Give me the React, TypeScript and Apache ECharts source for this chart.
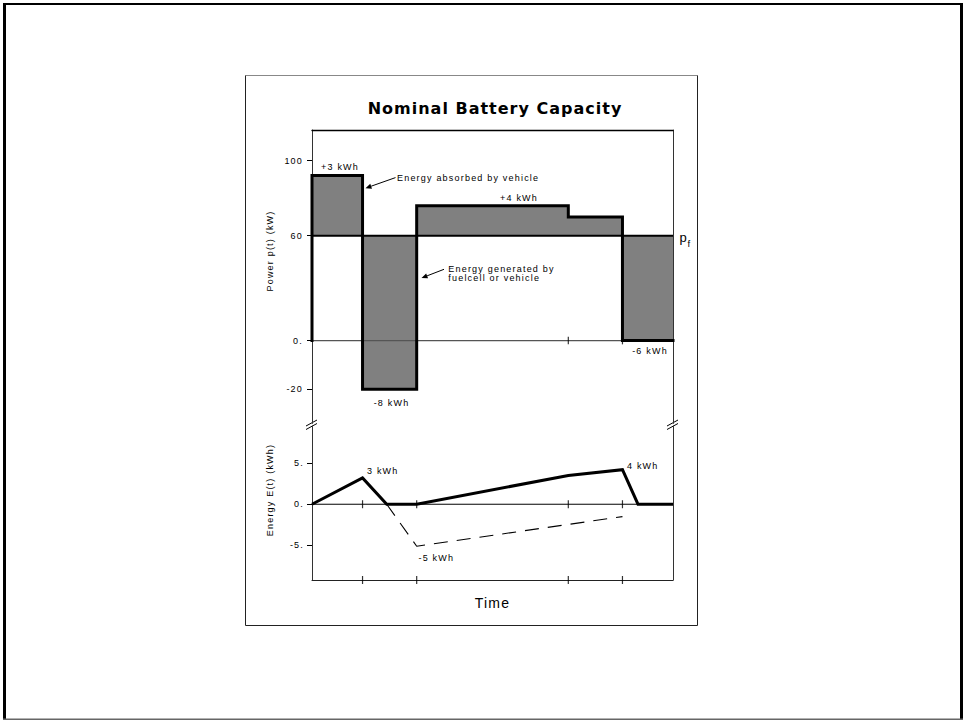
import React, { useEffect, useRef } from 'react';
import * as echarts from 'echarts';

// ---------------- data ----------------
const TITLE = 'Nominal Battery Capacity';
const TIME_EDGES = [0, 14, 29, 71, 86, 100]; // segment boundaries (time)
const POWER_KW = [92, -20, 76, 70, 0]; // power demand in each segment
const PF_KW = 60; // fuel-cell power p_f
const POWER_TICKS = [-20, 0, 60, 100];
const POWER_TICK_LABELS = ['-20', '0.', '60', '100'];
const TIME_TICKS = [14, 29, 71, 86];
const ENERGY_T = [0, 14, 20.7, 29, 71, 86, 90.3, 100];
const ENERGY_KWH = [0, 3.2, 0, 0, 3.5, 4.2, 0, 0];
const UNCLIPPED_T = [20.7, 29, 71, 86];
const UNCLIPPED_KWH = [0, -5.1, -2.45, -1.5];
const ENERGY_TICKS = [-5, 0, 5];
const ENERGY_TICK_LABELS = ['-5.', '0.', '5.'];
const SEGMENT_LABELS = ['+3 kWh', '-8 kWh', '+4 kWh', '-6 kWh'];
const ENERGY_LABELS = ['3 kWh', '-5 kWh', '4 kWh'];
const NOTE_ABSORBED = 'Energy absorbed by vehicle';
const NOTE_GENERATED = 'Energy generated by\nfuelcell or vehicle';
const POWER_AXIS_NAME = 'Power p(t) (kW)';
const ENERGY_AXIS_NAME = 'Energy E(t) (kWh)';
const TIME_AXIS_NAME = 'Time';

// ---------------- layout ----------------
const FONT = '"Liberation Sans", Arial, sans-serif';
const PLOT_L = 312;
const PLOT_R = 673;
const G0_TOP = 130;
const G0_H = 293.4;
const G1_TOP = 426;
const G1_H = 154;
const P_MIN = -46;
const P_MAX = 117;
// The power axis of the original is a hand-drawn schematic: its tick labels
// are not evenly spaced. Calibrate the axis (value -> drawn position).
const AXIS_KNOT_VALUES = [-20, 0, 60, 100];
const AXIS_KNOT_DRAWN = [-27, 0, 58.3, 100];
function warp(v: number): number {
  const kv = AXIS_KNOT_VALUES;
  const kd = AXIS_KNOT_DRAWN;
  let i = 0;
  while (i < kv.length - 2 && v > kv[i + 1]) i++;
  const f = (v - kv[i]) / (kv[i + 1] - kv[i]);
  return kd[i] + f * (kd[i + 1] - kd[i]);
}
const E_MIN = -9.2;
const E_MAX = 9.5;

function arrow(x1: number, y1: number, x2: number, y2: number): any[] {
  const dx = x2 - x1;
  const dy = y2 - y1;
  const len = Math.hypot(dx, dy);
  const ux = dx / len;
  const uy = dy / len;
  const hl = 6;
  const hw = 2.6;
  const bx = x2 - ux * hl;
  const by = y2 - uy * hl;
  return [
    { type: 'line', silent: true, shape: { x1, y1, x2: bx, y2: by }, style: { stroke: '#000', lineWidth: 1 } },
    {
      type: 'polygon',
      silent: true,
      shape: { points: [[x2, y2], [bx - uy * hw, by + ux * hw], [bx + uy * hw, by - ux * hw]] },
      style: { fill: '#000' },
    },
  ];
}

function txt(text: string, x: number, y: number, align: string, size = 9, extra: any = {}): any {
  return {
    type: 'text',
    silent: true,
    x,
    y,
    ...extra,
    style: { text, fontSize: size, fontFamily: FONT, fill: '#000', align, verticalAlign: 'middle', ...(extra.style || {}) },
  };
}

function breakMark(x: number, y: number): any[] {
  return [
    { type: 'line', silent: true, shape: { x1: x - 6, y1: y + 1.5, x2: x + 5, y2: y - 4.5 }, style: { stroke: '#000', lineWidth: 1 } },
    { type: 'line', silent: true, shape: { x1: x - 6, y1: y + 5, x2: x + 5, y2: y - 1 }, style: { stroke: '#000', lineWidth: 1 } },
  ];
}

export default function App() {
  const ref = useRef<HTMLDivElement>(null);

  useEffect(() => {
    if (!ref.current) return;
    const chart = echarts.init(ref.current, undefined, { renderer: 'svg' });

    const last = TIME_EDGES.length - 1;
    const powerData: number[][] = [[TIME_EDGES[0], warp(0)]];
    POWER_KW.forEach((p, i) => powerData.push([TIME_EDGES[i], warp(p)]));
    powerData.push([TIME_EDGES[last], warp(POWER_KW[POWER_KW.length - 1])]);

    const energyData = ENERGY_T.map((t, i) => [t, ENERGY_KWH[i]]);
    const unclippedData = UNCLIPPED_T.map((t, i) => [t, UNCLIPPED_KWH[i]]);
    const t0 = TIME_EDGES[0];
    const tN = TIME_EDGES[last];

    const axisHidden = { axisTick: { show: false }, axisLabel: { show: false }, splitLine: { show: false } };
    const frameLine = { color: '#333', width: 1 };

    const powerLabelFmt = (v: number) => {
      const i = POWER_TICKS.findIndex((t) => Math.abs(warp(t) - v) < 1e-6);
      return i >= 0 ? POWER_TICK_LABELS[i] : '';
    };
    const energyLabelFmt = (v: number) => {
      const i = ENERGY_TICKS.findIndex((t) => Math.abs(t - v) < 1e-6);
      return i >= 0 ? ENERGY_TICK_LABELS[i] : '';
    };

    const option: any = {
      animation: false,
      backgroundColor: '#fff',
      title: {
        text: TITLE,
        left: 490,
        textAlign: 'center',
        top: 95.5,
        textStyle: { fontFamily: '"DejaVu Sans", sans-serif', fontWeight: 'bold', fontSize: 16, color: '#000' },
      },
      grid: [
        { left: PLOT_L, top: G0_TOP, width: PLOT_R - PLOT_L, height: G0_H, outerBoundsMode: 'none' },
        { left: PLOT_L, top: G1_TOP, width: PLOT_R - PLOT_L, height: G1_H, outerBoundsMode: 'none' },
      ],
      xAxis: [
        { gridIndex: 0, type: 'value', min: t0, max: tN, axisLine: { show: false }, ...axisHidden },
        { gridIndex: 0, type: 'value', min: t0, max: tN, position: 'top', axisLine: { show: true, onZero: false, lineStyle: { color: '#000', width: 1.3 } }, ...axisHidden },
        {
          gridIndex: 1,
          type: 'value',
          min: t0,
          max: tN,
          position: 'bottom',
          axisLine: { show: true, onZero: false, lineStyle: { color: '#222', width: 1 } },
          ...axisHidden,
          name: TIME_AXIS_NAME,
          nameLocation: 'middle',
          nameGap: 16,
          nameTextStyle: { fontFamily: FONT, fontSize: 14, color: '#000' },
        },
      ],
      yAxis: [
        {
          gridIndex: 0,
          type: 'value',
          min: P_MIN,
          max: P_MAX,
          axisLine: { show: true, onZero: false, lineStyle: frameLine },
          axisTick: { show: true, customValues: POWER_TICKS.map(warp), length: 5, lineStyle: { color: '#000', width: 1 } },
          axisLabel: { show: true, customValues: POWER_TICKS.map(warp), formatter: powerLabelFmt, margin: 9, fontSize: 9, fontFamily: FONT, color: '#000' },
          splitLine: { show: false },
        },
        { gridIndex: 0, type: 'value', min: P_MIN, max: P_MAX, position: 'right', axisLine: { show: true, onZero: false, lineStyle: frameLine }, ...axisHidden },
        {
          gridIndex: 1,
          type: 'value',
          min: E_MIN,
          max: E_MAX,
          axisLine: { show: true, onZero: false, lineStyle: frameLine },
          axisTick: { show: true, customValues: ENERGY_TICKS, length: 5, lineStyle: { color: '#000', width: 1 } },
          axisLabel: { show: true, customValues: ENERGY_TICKS, formatter: energyLabelFmt, margin: 8, fontSize: 9, fontFamily: FONT, color: '#000' },
          splitLine: { show: false },
        },
        { gridIndex: 1, type: 'value', min: E_MIN, max: E_MAX, position: 'right', axisLine: { show: true, onZero: false, lineStyle: frameLine }, ...axisHidden },
      ],
      series: [
        {
          name: 'energy exchange',
          type: 'line',
          xAxisIndex: 0,
          yAxisIndex: 0,
          data: powerData,
          step: 'end',
          symbol: 'none',
          silent: true,
          clip: false,
          lineStyle: { width: 0, opacity: 0 },
          areaStyle: { color: '#808080', opacity: 1, origin: warp(PF_KW) },
          z: 2,
        },
        {
          name: 'zero power',
          type: 'line',
          xAxisIndex: 0,
          yAxisIndex: 0,
          data: [[t0, warp(0)], [tN, warp(0)]],
          symbol: 'none',
          silent: true,
          lineStyle: { color: '#555', width: 1.2 },
          z: 3,
        },
        {
          name: 'pf',
          type: 'line',
          xAxisIndex: 0,
          yAxisIndex: 0,
          data: [[t0, warp(PF_KW)], [tN, warp(PF_KW)]],
          symbol: 'none',
          silent: true,
          lineStyle: { color: '#000', width: 2 },
          z: 3,
        },
        {
          name: 'power',
          type: 'line',
          xAxisIndex: 0,
          yAxisIndex: 0,
          data: powerData,
          step: 'end',
          symbol: 'none',
          silent: true,
          clip: false,
          lineStyle: { color: '#000', width: 3, join: 'miter', cap: 'square' },
          z: 4,
        },
        {
          name: 'time ticks power',
          type: 'scatter',
          xAxisIndex: 0,
          yAxisIndex: 0,
          data: TIME_TICKS.map((t) => [t, warp(0)]),
          symbol: 'rect',
          symbolSize: [1.2, 7.5],
          silent: true,
          itemStyle: { color: '#000' },
          z: 5,
        },
        {
          name: 'zero energy',
          type: 'line',
          xAxisIndex: 2,
          yAxisIndex: 2,
          data: [[t0, 0], [tN, 0]],
          symbol: 'none',
          silent: true,
          lineStyle: { color: '#000', width: 1 },
          z: 3,
        },
        {
          name: 'unclipped energy',
          type: 'line',
          xAxisIndex: 2,
          yAxisIndex: 2,
          data: unclippedData,
          symbol: 'none',
          silent: true,
          lineStyle: { color: '#000', width: 1.1, type: [14, 9] },
          z: 3,
        },
        {
          name: 'energy',
          type: 'line',
          xAxisIndex: 2,
          yAxisIndex: 2,
          data: energyData,
          symbol: 'none',
          silent: true,
          clip: false,
          lineStyle: { color: '#000', width: 3, join: 'miter' },
          z: 4,
        },
        {
          name: 'time ticks energy',
          type: 'scatter',
          xAxisIndex: 2,
          yAxisIndex: 2,
          data: TIME_TICKS.flatMap((t) => [[t, 0], [t, E_MIN]]),
          symbol: 'rect',
          symbolSize: [1.2, 8],
          silent: true,
          clip: false,
          itemStyle: { color: '#000' },
          z: 5,
        },
      ],
      graphic: [
        // page frame
        { type: 'line', silent: true, shape: { x1: 4.5, y1: 3, x2: 4.5, y2: 720 }, style: { stroke: '#000', lineWidth: 3 } },
        { type: 'line', silent: true, shape: { x1: 3, y1: 4, x2: 963, y2: 4 }, style: { stroke: '#000', lineWidth: 2 } },
        { type: 'line', silent: true, shape: { x1: 961.5, y1: 3, x2: 961.5, y2: 720 }, style: { stroke: '#000', lineWidth: 3 } },
        { type: 'line', silent: true, shape: { x1: 3, y1: 719.3, x2: 963, y2: 719.3 }, style: { stroke: '#666', lineWidth: 1.4 } },
        // slide box
        { type: 'rect', silent: true, shape: { x: 245.5, y: 75.5, width: 452, height: 550 }, style: { fill: 'none', stroke: '#222', lineWidth: 1 } },
        { type: 'line', silent: true, shape: { x1: 245.5, y1: 75.5, x2: 697.5, y2: 75.5 }, style: { stroke: '#888', lineWidth: 1 } },
        // axis breaks
        ...breakMark(PLOT_L, 424.5),
        ...breakMark(PLOT_R, 424.5),
        // arrows
        ...arrow(395.5, 177.6, 365.5, 188.2),
        ...arrow(444, 269.3, 421.5, 278),
        // annotations
        txt(SEGMENT_LABELS[0], 340, 166.7, 'center'),
        txt(NOTE_ABSORBED, 397, 177.7, 'left'),
        txt(SEGMENT_LABELS[2], 519, 198.3, 'center'),
        txt('p', 679.5, 237.5, 'left', 13),
        txt('f', 687.5, 243.5, 'left', 9.5),
        txt(NOTE_GENERATED, 448.3, 264, 'left', 9, { style: { verticalAlign: 'top', lineHeight: 9.5 } }),
        txt(SEGMENT_LABELS[1], 391.5, 402.7, 'center'),
        txt(SEGMENT_LABELS[3], 650, 351, 'center'),
        txt(ENERGY_LABELS[0], 367, 471, 'left'),
        txt(ENERGY_LABELS[1], 418.5, 558.3, 'left'),
        txt(ENERGY_LABELS[2], 627, 465.7, 'left'),
        txt(POWER_AXIS_NAME, 270, 251, 'center', 9, { rotation: Math.PI / 2 }),
        txt(ENERGY_AXIS_NAME, 270, 490, 'center', 9, { rotation: Math.PI / 2 }),
      ],
    };

    chart.setOption(option);
    return () => chart.dispose();
  }, []);

  return (
    <>
      <style>{'.bchart text{letter-spacing:1.2px}.bchart text[style*="bold"]{letter-spacing:1px}'}</style>
      <div
        ref={ref}
        className="bchart"
        style={{ position: 'fixed', left: 0, top: 0, width: 963, height: 720, background: '#fff' }}
      />
    </>
  );
}
